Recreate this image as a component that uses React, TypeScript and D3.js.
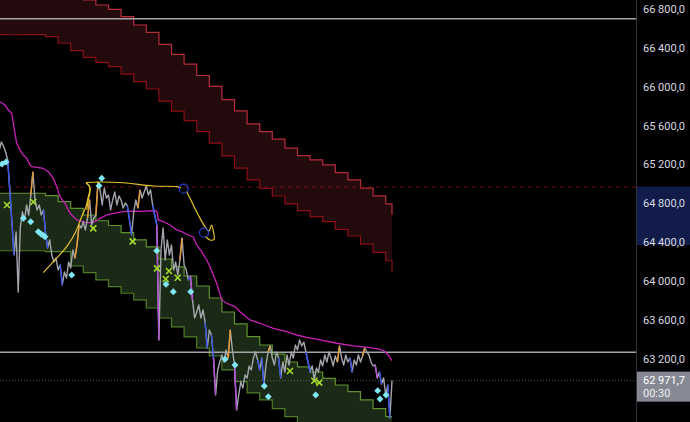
import React from "react";
import * as d3 from "d3";

const W = 690;
const H = 422;
const PW = 636;

// ---- axis / levels ----
const yTicks = [66800, 66400, 66000, 65600, 65200, 64800, 64400, 64000, 63600, 63200];
const hLines = [66700, 63265];
const alertLevel = 64967;
const lastPrice = 62971.7;
const countdown = "00:30";
const highlightRange = [64970, 64370];

// ---- cloud bands (one value per cloud step, 6 bars per step) ----
const redUpper = [67300, 67250, 67190, 67120, 67050, 66990, 66930, 66893, 66841, 66797, 66721, 66635, 66560, 66436, 66333, 66233, 66115, 66002, 65866, 65750, 65616, 65537, 65459, 65366, 65290, 65245, 65194, 65115, 65040, 64954, 64875, 64793];
const redLower = [66537, 66535, 66537, 66537, 66515, 66447, 66371, 66302, 66251, 66206, 66130, 66051, 65976, 65852, 65749, 65650, 65537, 65418, 65287, 65160, 65039, 64953, 64874, 64792, 64723, 64661, 64609, 64531, 64462, 64379, 64294, 64207];
const redEnd = [64680, 64094];
const greenUpper = [64902, 64902, 64902, 64902, 64877, 64815, 64747, 64678, 64619, 64570, 64496, 64421, 64349, 64225, 64143, 64050, 63947, 63823, 63679, 63556, 63425, 63339, 63246, 63164, 63113, 63061, 62996, 62927, 62858, 62773, 62683, 62601];
const greenLower = [64310, 64310, 64310, 64310, 64300, 64300, 64153, 64084, 64009, 63940, 63872, 63803, 63720, 63617, 63525, 63422, 63308, 63226, 63082, 62961, 62845, 62773, 62683, 62601, 62515, 62443, 62361, 62278, 62206, 62134, 62052, 61969];
const greenEnd = [62601, 61969];
const barsPerStep = 6;
const lastBar = 189;

// ---- price (close per bar, starting at bar 2) ----
const priceStart = 2;
const closes = [
  65348, 65430, 65389, 65327, 65245, 64936, 64606, 64266,
  64503, 63885, 64544, 64709, 64627, 64781, 64678, 64884, 65121, 64833,
  64730, 64781, 64678, 64730, 64503, 64338, 64421, 64266, 64194, 64235,
  64112, 64163, 63957, 64091, 64029, 64194, 64132, 64318, 64235, 64369,
  64575, 64544, 64606, 64524, 64647, 64833, 64575, 64647, 64678, 65018,
  64936, 64781, 64956, 64853, 64884, 64730, 64833, 64915, 64781, 64874,
  64833, 64750, 64802, 64771, 64627, 64472, 64709, 64833, 64750, 64936,
  64853, 64915, 64977, 64884, 64936, 64781, 64678, 64575, 63391, 64318,
  64544, 64215, 64421, 64266, 64369, 64112, 64194, 64060, 64215, 64441,
  64163, 64112, 64009, 64050, 63803, 63617, 63679, 63751, 63617, 63700,
  63576, 63308, 63494, 63442, 63205, 62824, 63082, 63164, 63236, 63164,
  63288, 63205, 63494, 63288, 63133, 62670, 62824, 62958, 62896, 63030,
  62999, 63123, 63082, 63205, 63267, 63185, 63082, 63205, 62927, 63133,
  63267, 63329, 63205, 63133, 63267, 63205, 62999, 63164, 63061, 63236,
  63133, 63267, 63205, 63339, 63288, 63391, 63329, 63370, 63267, 63164,
  63061, 63123, 62979, 63102, 63061, 63185, 63123, 63236, 63164, 63267,
  63205, 63123, 63226, 63164, 63329, 63205, 63133, 63236, 63164, 63205,
  63061, 63185, 63133, 63236, 63164, 63226, 63308, 63267, 63236, 63164,
  63123, 63133, 62999, 63061, 62937, 62999, 62824, 62927, 62587, 62971.7,
];
const blueSegs = [[6, 9], [23, 25], [31, 32], [63, 65], [75, 77], [92, 93], [100, 101], [103, 104], [125, 126], [127, 128], [135, 136], [148, 150], [169, 170], [183, 184], [187, 188]];
const orangeSegs = [[17, 18], [38, 40], [44, 45], [48, 49], [68, 69], [88, 89], [111, 112], [130, 131], [163, 164], [175, 176]];
const violetSegs = [[77, 78], [93, 94], [104, 105], [114, 115], [181, 182]];

// ---- magenta indicator (bar, price) ----
const magentaLine = [
  [2.33, 65845], [4.71, 65811], [6.29, 65760], [7.9, 65726], [8.67, 65623], [9.48, 65520], [10.29, 65417], [11.86, 65348], [13.43, 65296], [15.05, 65262], [16.62, 65193], [17.57, 65176], [22.95, 65159], [25.33, 65124], [27.71, 65056], [29.33, 64970], [30.9, 64867], [33.29, 64799], [35.67, 64696], [38.86, 64627], [43.62, 64599], [46.76, 64599], [49.95, 64644], [53.14, 64678], [56.29, 64696], [62.67, 64719], [69.0, 64716], [76.14, 64722], [77.1, 64714], [77.71, 64627], [80.1, 64609], [83.29, 64575], [86.48, 64524], [88.86, 64506], [92.0, 64472], [94.38, 64452], [96.0, 64369], [98.38, 64300], [100.76, 64215], [102.33, 64146], [103.9, 64060], [105.52, 63975], [107.9, 63803], [110.29, 63769], [114.24, 63734], [116.62, 63682], [121.38, 63597], [126.14, 63563], [132.48, 63511], [138.86, 63476], [143.62, 63442], [148.38, 63418], [154.76, 63391], [162.71, 63357], [170.62, 63329], [178.57, 63311], [183.33, 63295], [185.24, 63277], [187.24, 63236], [188.86, 63178],
];

// ---- yellow drawing strokes (bar, price) ----
const yellowStrokes = [
  [[22.95, 64084], [27.71, 64197], [34.1, 64352], [38.05, 64490], [41.24, 64661], [43.29, 64764], [44.38, 64867], [45.19, 64936], [44.86, 64977], [43.29, 65011]],
  [[43.29, 65005], [44.86, 64977], [45.19, 64918], [44.38, 64833], [43.62, 64730]],
  [[43.29, 65013], [49.95, 65018], [59.48, 65013], [75.19, 64977], [86.62, 64970], [88.52, 64956]],
  [[91.14, 64920], [93.62, 64815], [96.76, 64678], [99.95, 64558], [101.86, 64513], [103.05, 64575], [104.0, 64503], [104.24, 64426], [102.33, 64421], [100.19, 64457]],
];
const anchorCircles = [[89.81, 64949], [99.48, 64496]];

// ---- signal markers (bar, price) ----
const diamonds = [
  [3.29, 65204], [5.19, 65224], [13.43, 64644], [16.95, 64609], [20.57, 64506], [21.86, 64483], [23.05, 64467], [23.76, 64455], [36.48, 64060], [50.76, 65056], [49.48, 64980], [76.95, 64310], [81.38, 63964], [84.86, 63888], [93.14, 63888], [109.48, 63192], [114.24, 63133], [128.19, 62917], [130.1, 62807], [152.67, 62824], [182.19, 62869], [183.29, 62783], [186.14, 62824],
];
const crosses = [
  [5.67, 64781], [18.19, 64812], [46.76, 64541], [65.52, 64407], [77.1, 64129], [82.81, 64101], [81.24, 64019], [86.95, 64032], [140.43, 63071], [152.0, 62971], [154.38, 62951],
];

const locale = d3.formatLocale({ decimal: ",", thousands: "\u00a0", grouping: [3], currency: ["", ""] });
const fmt = locale.format(",.1f");

export default function App() {
  const x = d3.scaleLinear().domain([0, 192]).range([-4.9, 398.3]);
  const y = d3.scaleLinear().domain([63200, 66800]).range([358.5, 9]);

  const band = (up: number[], lo: number[], end: number[]) => {
    const d = up.map((v, j) => ({ t: j * barsPerStep, hi: v, lo: lo[j] }));
    d.push({ t: lastBar, hi: end[0], lo: end[1] });
    return d;
  };
  const red = band(redUpper, redLower, redEnd);
  const green = band(greenUpper, greenLower, greenEnd);

  const area = d3.area<any>().x((d) => x(d.t)).y0((d) => y(d.lo)).y1((d) => y(d.hi)).curve(d3.curveStepAfter);
  const hiLine = d3.line<any>().x((d) => x(d.t)).y((d) => y(d.hi)).curve(d3.curveStepAfter);
  const loLine = d3.line<any>().x((d) => x(d.t)).y((d) => y(d.lo)).curve(d3.curveStepAfter);

  const pts = closes.map((p, k) => [priceStart + k, p]);
  const pl = d3.line<any>().x((d) => x(d[0])).y((d) => y(d[1]));
  const seg = (s: number[]) => pl(pts.slice(s[0] - priceStart, s[1] - priceStart + 1));
  const curvy = d3.line<any>().x((d) => x(d[0])).y((d) => y(d[1])).curve(d3.curveCatmullRom);

  const sq = d3.symbol(d3.symbolSquare, 24)();

  return (
    <svg width={W} height={H} style={{ position: "absolute", left: 0, top: 0, background: "#000" }}>
      <defs>
        <clipPath id="plot">
          <rect x={0} y={0} width={PW} height={H} />
        </clipPath>
      </defs>
      <rect x={0} y={0} width={W} height={H} fill="#000" />
      <g clipPath="url(#plot)">
        <path d={area(red) || ""} fill="#220a0d" />
        <path d={hiLine(red) || ""} fill="none" stroke="#b82c3a" strokeWidth={1.2} />
        <path d={loLine(red) || ""} fill="none" stroke="#8c0f14" strokeWidth={1.2} />
        <path d={area(green) || ""} fill="#1b2a16" />
        <path d={hiLine(green) || ""} fill="none" stroke="#5f922b" strokeWidth={1.2} />
        <path d={loLine(green) || ""} fill="none" stroke="#4f7e24" strokeWidth={1.2} />

        {hLines.map((v) => (
          <line key={v} x1={0} x2={PW} y1={y(v)} y2={y(v)} stroke="#a3a3a8" strokeWidth={1.4} />
        ))}
        <line x1={0} x2={PW} y1={y(alertLevel)} y2={y(alertLevel)} stroke="#6e1414" strokeWidth={1} strokeDasharray="4 4" />
        <line x1={0} x2={PW} y1={y(lastPrice)} y2={y(lastPrice)} stroke="#5a5d66" strokeWidth={1} strokeDasharray="1 2" />

        <path d={pl(magentaLine) || ""} fill="none" stroke="#c81fb8" strokeWidth={1.3} />

        <path d={pl(pts) || ""} fill="none" stroke="#a4a6ad" strokeWidth={1.4} strokeLinejoin="round" />
        {blueSegs.map((s, k) => (
          <path key={"b" + k} d={seg(s) || ""} fill="none" stroke="#3550e6" strokeWidth={1.4} />
        ))}
        {orangeSegs.map((s, k) => (
          <path key={"o" + k} d={seg(s) || ""} fill="none" stroke="#e59a2e" strokeWidth={1.4} />
        ))}
        {violetSegs.map((s, k) => (
          <path key={"v" + k} d={seg(s) || ""} fill="none" stroke="#b84fd8" strokeWidth={1.4} />
        ))}

        {yellowStrokes.map((s, k) => (
          <path key={"y" + k} d={curvy(s) || ""} fill="none" stroke="#e3c22c" strokeWidth={1.2} />
        ))}
        {anchorCircles.map((c, k) => (
          <circle key={"c" + k} cx={x(c[0])} cy={y(c[1])} r={4.5} fill="none" stroke="#2b3fd0" strokeWidth={1.2} />
        ))}

        {diamonds.map((d, k) => (
          <path key={"d" + k} d={sq || ""} transform={`translate(${x(d[0])},${y(d[1])}) rotate(45)`} fill="#7fe6f4" />
        ))}
        {crosses.map((d, k) => (
          <path key={"x" + k} d="M-3,-3L3,3M-3,3L3,-3" transform={`translate(${x(d[0])},${y(d[1])})`} stroke="#a5dc2c" strokeWidth={1.6} fill="none" />
        ))}
      </g>

      {/* price axis */}
      <rect x={PW + 1} y={y(highlightRange[0])} width={W - PW - 1} height={y(highlightRange[1]) - y(highlightRange[0])} fill="#111c4a" />
      <line x1={PW + 0.5} x2={PW + 0.5} y1={0} y2={H} stroke="#30343d" strokeWidth={1} />
      {yTicks.map((v) => (
        <text key={v} x={643} y={y(v) + 4} fill="#d8dae0" fontSize={11} fontFamily="Roboto, 'Noto Sans', sans-serif">
          {fmt(v)}
        </text>
      ))}
      <rect x={PW + 1} y={y(lastPrice) - 9} width={W - PW - 1} height={30} fill="#868993" />
      <text x={643} y={y(lastPrice) + 3} fill="#ffffff" fontSize={11} fontFamily="Roboto, 'Noto Sans', sans-serif">
        {fmt(lastPrice)}
      </text>
      <text x={643} y={y(lastPrice) + 16} fill="#eceef2" fontSize={11} fontFamily="Roboto, 'Noto Sans', sans-serif">
        {countdown}
      </text>
    </svg>
  );
}
